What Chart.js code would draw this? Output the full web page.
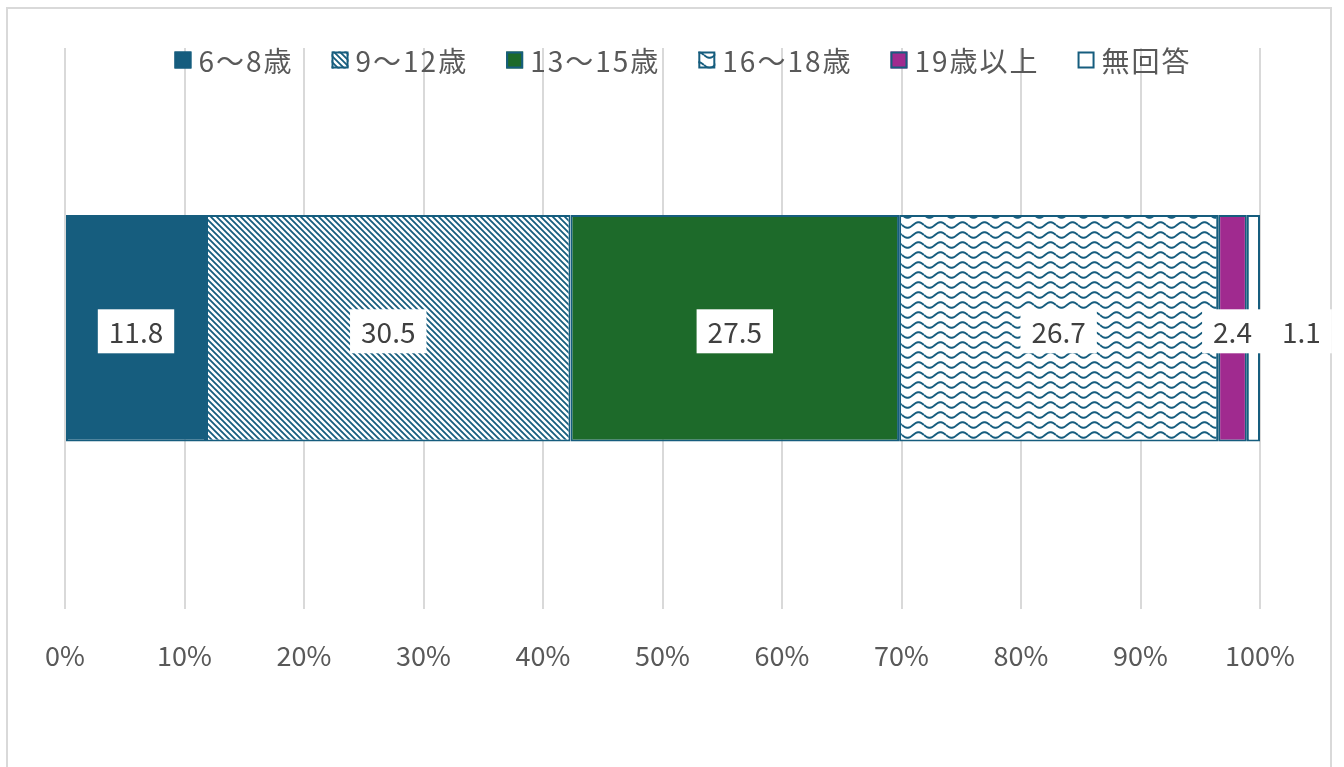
<!DOCTYPE html>
<html>
<head>
<meta charset="utf-8">
<script src="https://cdn.jsdelivr.net/npm/chart.js@4.4.1/dist/chart.umd.min.js"></script>
<style>
  body { margin: 0; background: #fff; }
  #frame { position: absolute; left: 6px; top: 7px; width: 1326px; height: 790px; border: 2px solid #d9d9d9; box-sizing: border-box; }
  #chart { position: absolute; left: 0; top: 0; }
</style>
</head>
<body>
<div id="frame"></div>
<canvas id="chart" width="1344" height="767"></canvas>
<script>
// data
const categories = ["回答者"];
const seriesLabels = ["6～8歳", "9～12歳", "13～15歳", "16～18歳", "19歳以上", "無回答"];
const seriesValues = [11.8, 30.5, 27.5, 26.7, 2.4, 1.1];
const tickStep = 10;

const BLUE = "#165d7e";
const FONT = "'Noto Sans CJK JP', 'Noto Sans', sans-serif";

function hatchPattern() {
  const c = document.createElement("canvas");
  c.width = 6;
  c.height = 6;
  const ctx = c.getContext("2d");
  ctx.fillStyle = "#fff";
  ctx.fillRect(0, 0, 6, 6);
  ctx.strokeStyle = BLUE;
  ctx.lineWidth = 1.8;
  ctx.beginPath();
  ctx.moveTo(-1, -1); ctx.lineTo(7, 7);
  ctx.moveTo(-4, 2); ctx.lineTo(4, 10);
  ctx.moveTo(2, -4); ctx.lineTo(10, 4);
  ctx.stroke();
  return c;
}

function wavePattern() {
  const c = document.createElement("canvas");
  c.width = 22;
  c.height = 10;
  const ctx = c.getContext("2d");
  ctx.fillStyle = "#fff";
  ctx.fillRect(0, 0, 22, 10);
  ctx.strokeStyle = BLUE;
  ctx.lineWidth = 2;
  ctx.beginPath();
  for (let x = 0; x <= 22; x++) {
    const y = 5 + 2.8 * Math.sin((x / 22) * Math.PI * 2);
    if (x === 0) ctx.moveTo(x, y);
    else ctx.lineTo(x, y);
  }
  ctx.stroke();
  return c;
}

const context = document.getElementById("chart").getContext("2d");
const fills = [
  BLUE,
  context.createPattern(hatchPattern(), "repeat"),
  "#1d6a2a",
  context.createPattern(wavePattern(), "repeat"),
  "#a02a8f",
  "#ffffff",
];

const datasets = seriesLabels.map((label, i) => ({
  label: label,
  data: [seriesValues[i]],
  backgroundColor: fills[i],
  borderColor: BLUE,
  borderWidth: 2,
  borderSkipped: false,
  // the tiny last segment has its label pushed out past the bar end
  labelDx: i === seriesLabels.length - 1 ? 48 : 0,
}));

// legend drawn over the plot, like the original
const topLegend = {
  id: "topLegend",
  afterDraw(chart) {
    const ctx = chart.ctx;
    ctx.save();
    ctx.font = "28px " + FONT;
    ctx.letterSpacing = "2px";
    const box = 17, gapText = 7, gapItem = 38;
    const items = chart.data.datasets.map((ds) => ({
      ds: ds,
      w: box + gapText + ctx.measureText(ds.label).width,
    }));
    const total = items.reduce((s, it) => s + it.w, 0) + gapItem * (items.length - 1);
    let x = 683 - total / 2;
    const y = 60;
    items.forEach((it) => {
      ctx.fillStyle = it.ds.backgroundColor;
      ctx.fillRect(x, y - box / 2, box, box);
      ctx.strokeStyle = BLUE;
      ctx.lineWidth = 2;
      ctx.strokeRect(x + 1, y - box / 2 + 1, box - 2, box - 2);
      ctx.fillStyle = "#595959";
      ctx.textBaseline = "middle";
      ctx.textAlign = "left";
      ctx.fillText(it.ds.label, x + box + gapText, y + 1);
      x += it.w + gapItem;
    });
    ctx.restore();
  },
};

const boxLabels = {
  id: "boxLabels",
  afterDatasetsDraw(chart) {
    const ctx = chart.ctx;
    ctx.save();
    ctx.font = "28px " + FONT;
    ctx.textAlign = "center";
    ctx.textBaseline = "middle";
    const labels = chart.data.datasets.map((ds, i) => {
      const bar = chart.getDatasetMeta(i).data[0];
      const text = ds.data[0].toFixed(1);
      return {
        text: text,
        cx: (bar.x + bar.base) / 2 + ds.labelDx,
        cy: bar.y + 3,
        w: ctx.measureText(text).width + 22,
      };
    });
    // boxes first, then texts, so no box hides a neighbour's number
    ctx.fillStyle = "#fff";
    labels.forEach((l) => ctx.fillRect(l.cx - l.w / 2, l.cy - 22, l.w, 44));
    ctx.fillStyle = "#404040";
    labels.forEach((l) => ctx.fillText(l.text, l.cx, l.cy + 1));
    ctx.restore();
  },
};

new Chart(context, {
  type: "bar",
  data: { labels: categories, datasets: datasets },
  options: {
    indexAxis: "y",
    responsive: false,
    animation: false,
    devicePixelRatio: 1,
    layout: { padding: { left: 65, right: 84, top: 48, bottom: 64 } },
    datasets: { bar: { barPercentage: 1, categoryPercentage: 0.404 } },
    scales: {
      x: {
        stacked: true,
        min: 0,
        max: 100,
        border: { display: false },
        grid: { color: "#d9d9d9", lineWidth: 2, drawTicks: false },
        ticks: {
          stepSize: tickStep,
          padding: 31,
          color: "#595959",
          font: { family: FONT, size: 27 },
          callback: (v) => v + "%",
        },
      },
      y: {
        stacked: true,
        display: false,
      },
    },
    plugins: {
      legend: { display: false },
      tooltip: { enabled: false },
    },
  },
  plugins: [topLegend, boxLabels],
});
</script>
</body>
</html>
